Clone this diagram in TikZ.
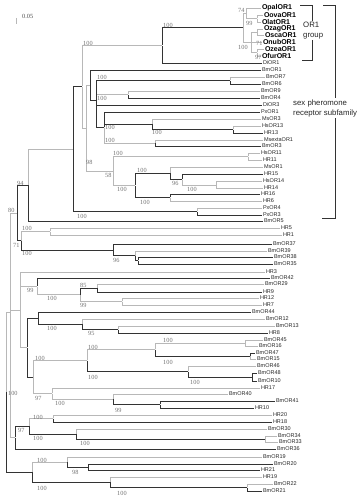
\documentclass[tikz,border=0pt]{standalone}
\usepackage{fontspec}
\setmainfont{Liberation Serif}
\setsansfont{Liberation Sans}
\usepackage{tikz}

\begin{document}
\begin{tikzpicture}[x=1pt,y=-1pt]
\tikzstyle{nd}=[inner sep=0pt,minimum size=0pt]
\tikzstyle{br}=[draw=black!80,line width=0.7pt]
\tikzstyle{brl}=[draw=black!28,line width=0.7pt]
\tikzstyle{leaf}=[anchor=west,inner sep=0.8pt,text=black!85,font=\sffamily\fontsize{5.5}{6}\selectfont]
\tikzstyle{oleaf}=[anchor=west,inner sep=0.8pt,text=black,font=\sffamily\bfseries\fontsize{7}{7}\selectfont]
\tikzstyle{boot}=[anchor=west,inner sep=0pt,text=black!55,font=\fontsize{6.3}{7}\selectfont]
\tikzstyle{grp}=[anchor=west,align=left,fill=white,inner sep=1pt,text=black!85,font=\sffamily\fontsize{7.8}{10}\selectfont]
\useasboundingbox (0,0) rectangle (360,500);

% scale bar
\coordinate (sbt) at (16.5,18);
\coordinate (sbb) at (16.5,24);
\draw[brl] (sbt) -- (sbb);
\node[boot,text=black!70] (sbl) at (22,16) {0.05};

% leaves
\foreach \nm/\xx/\yy in {OpalOR1/261/8,OovaOR1/263/15,OlatOR1/261/22,OzagOR1/263/29,
  OscaOR1/264/35.5,OnubOR1/262/42,OzeaOR1/264/49,OfurOR1/261/56}
  \node[oleaf] (\nm) at (\xx,\yy) {\nm};
\foreach \nm/\xx/\yy in {DiOR1/262/63,BmOR1/261/70,BmOR7/265/77,BmOR6/261/84,BmOR9/260/91,
  BmOR4/260/98,DiOR3/262/105,PxOR1/260/112,MsOR3/261/119,HsOR13/261/126,HR13/263/133,
  MsextaOR1/263/140,BmOR3/261/146,HsOR11/260/153,HR11/262/160,MsOR1/263/167,HR15/263/174,
  HsOR14/262/181,HR14/263/188,HR16/260/194,HR6/262/201,PxOR4/262/208,PxOR3/262/215,
  BmOR5/263/221,HR5/280/228,HR1/282/235,BmOR37/272/244,BmOR39/267/251,BmOR38/273/257,
  BmOR35/273/264,HR3/265/272,BmOR42/270/278,BmOR29/264/284,HR9/262/292,HR12/259/298,
  HR7/262/305,BmOR44/251/312,BmOR12/265/319,BmOR13/275/326,HR8/268/333,BmOR45/263/340,
  BmOR16/258/346,BmOR47/255/353,BmOR15/256/359,BmOR46/256/366,BmOR48/257/373,
  BmOR10/257/381,HR17/260/388,BmOR40/228/394,BmOR41/275/401,HR10/254/408,HR20/272/415,
  HR18/272/422,BmOR30/267/429,BmOR34/277/436,BmOR33/278/442,BmOR36/276/449,
  BmOR19/262/457,BmOR20/273/464,HR21/260/470,HR19/262/477,BmOR22/273/484,BmOR21/262/491}
  \node[leaf] (\nm) at (\xx,\yy) {\nm};

% inner nodes
\foreach \nm/\xx/\yy in {Oc/257/18.5,Oa/246/13.25,Od/257/32,Oe/257/52.5,Ob/251/42.25,
  Oroot/243/27.75,D/162/45.4,B7/230/80.5,B94/128/94.5,HsHR13/233/129.5,P6/152/124.25,
  P7/155/143,P5/104/127.5,P4/96/100,P3/90/85,HsHR11/248/156.5,HsHR14/216/185,
  P11/182/179.5,P10/170/173.25,P12/170/197.5,P9/135/185.4,P8/113/171,P2/86/128,
  P1/82/86.7,PxN/197/211.5,P0/73/149.1,X28/28/185,N50/50/231.5,N138/138/260.5,
  N135/135/255.75,N113b/113/249.9,X21/21/240.7,X17/17/212.9,N97/97/288,N122/122/301.5,
  N80/80/294.75,N37/37/286.4,N118/118/329.5,N82/82/324.25,N38/38/318.1,N245/245/343,
  N250/250/356,N155/155/349.5,N252/252/377,N188/188/371.5,N87/87/360.5,N160/160/404.5,
  N113/113/399.25,N52/52/393.6,N33/33/377,N27/27/347.5,N20/20/310,N53/53/418.5,
  N265/265/439,N76/76/434,N29/29/426.25,X15/15/437.6,X10/10/312,N88/88/467,N67/67/462,
  N247/247/487.5,N110/110/482.25,B32/32/472.1,R/6/392}
  \node[nd] (\nm) at (\xx,\yy) {};

% branches
\foreach \pa/\ch in {Oc/OovaOR1,Oc/OlatOR1,Oa/OpalOR1,Oa/Oc,Od/OzagOR1,Od/OscaOR1,
  Oe/OzeaOR1,Oe/OfurOR1,Ob/Od,Ob/OnubOR1,Ob/Oe,Oroot/Oa,Oroot/Ob,B7/BmOR7,B94/BmOR9,
  HsHR13/HsOR13,P6/MsOR3,P7/MsextaOR1,P5/P7,P4/B94,HsHR11/HsOR11,HsHR11/HR11,
  HsHR14/HsOR14,HsHR14/HR14,P11/HsHR14,P10/MsOR1,P12/HR6,P8/HsHR11,P8/P9,P2/P3,P2/P8,
  P1/D,P1/P2,PxN/PxOR4,X28/P0,N50/HR5,N50/HR1,N135/BmOR39,X21/N50,N97/BmOR29,
  N122/HR12,N122/HR7,N80/N122,N37/N80,N118/BmOR13,N82/BmOR12,N245/BmOR45,N245/BmOR16,
  N250/BmOR15,N155/N245,N188/BmOR46,N87/N155,N113/BmOR40,N52/HR17,N52/N113,N33/N87,
  N33/N52,N20/HR3,N20/N37,N20/N27,N53/HR20,N265/BmOR34,N265/BmOR33,N76/BmOR30,N29/N53,
  X10/X17,X10/N20,X10/X15,N67/BmOR19,N247/BmOR22,N110/HR19,B32/N67,R/X10}
  \draw[brl] (\pa) |- (\ch.west);
\foreach \pa/\ch in {D/Oroot,D/DiOR1,B7/BmOR6,B94/BmOR4,HsHR13/HR13,P6/HsHR13,P7/BmOR3,
  P5/PxOR1,P5/P6,P4/B7,P4/DiOR3,P4/P5,P3/BmOR1,P3/P4,P11/HR15,P10/P11,P12/HR16,P9/P10,
  P9/P12,PxN/PxOR3,P0/P1,P0/PxN,X28/BmOR5,N138/BmOR38,N138/BmOR35,N135/N138,
  N113b/BmOR37,N113b/N135,X21/N113b,X17/X28,X17/X21,N97/HR9,N80/N97,N37/BmOR42,
  N118/HR8,N82/N118,N38/BmOR44,N38/N82,N250/BmOR47,N155/N250,N252/BmOR48,N252/BmOR10,
  N188/N252,N87/N188,N160/BmOR41,N160/HR10,N113/N160,N27/N38,N27/N33,N53/HR18,
  N76/N265,N29/N76,X15/N29,X15/BmOR36,N88/BmOR20,N88/HR21,N67/N88,N247/BmOR21,
  N110/N247,B32/N110,R/B32}
  \draw[br] (\pa) |- (\ch.west);

% bootstrap values
\foreach \xx/\yy/\bv [count=\i] in {238/10/74,246/23/99,238/47/100,256/43/71,255/57/97,
  163/25/100,83/43/100,97/77/100,97/98/100,105/127/100,152/132/100,105/140/100,
  113/153/100,86/162/98,137/170/100,105/175/58,172/183/96,117/189/100,187/189/100,
  140/202/100,77/216/100,17/183/94,8/210/80,22/228/100,13/245/71,22/253/100,113/260/96,
  27/290/99,47/298/100,80/285/85,80/305/99,47/328/100,88/333/95,163/340/100,88/347/100,
  35/358/100,163/362/100,88/377/100,190/382/100,8/393/100,35/398/97,55/403/100,
  115/410/99,33/417/100,18/430/97,33/438/100,80/443/100,37/460/100,72/472/98,
  37/488/100,117/493/100}
  \node[boot] (bs\i) at (\xx,\yy) {\bv};

% groups
\coordinate (ga1) at (300,5);
\coordinate (ga2) at (312,5);
\coordinate (ga3) at (312,60);
\coordinate (ga4) at (302,60);
\draw[br] (ga1) -- (ga2) -- (ga3) -- (ga4);
\node[grp] (or1grp) at (302,30.5) {OR1\\group};
\coordinate (gb1) at (323,5);
\coordinate (gb2) at (335,5);
\coordinate (gb3) at (335,218);
\coordinate (gb4) at (322,218);
\draw[br] (gb1) -- (gb2) -- (gb3) -- (gb4);
\node[grp] (sexgrp) at (292,108) {sex pheromone\\receptor subfamily};
\end{tikzpicture}
\end{document}
